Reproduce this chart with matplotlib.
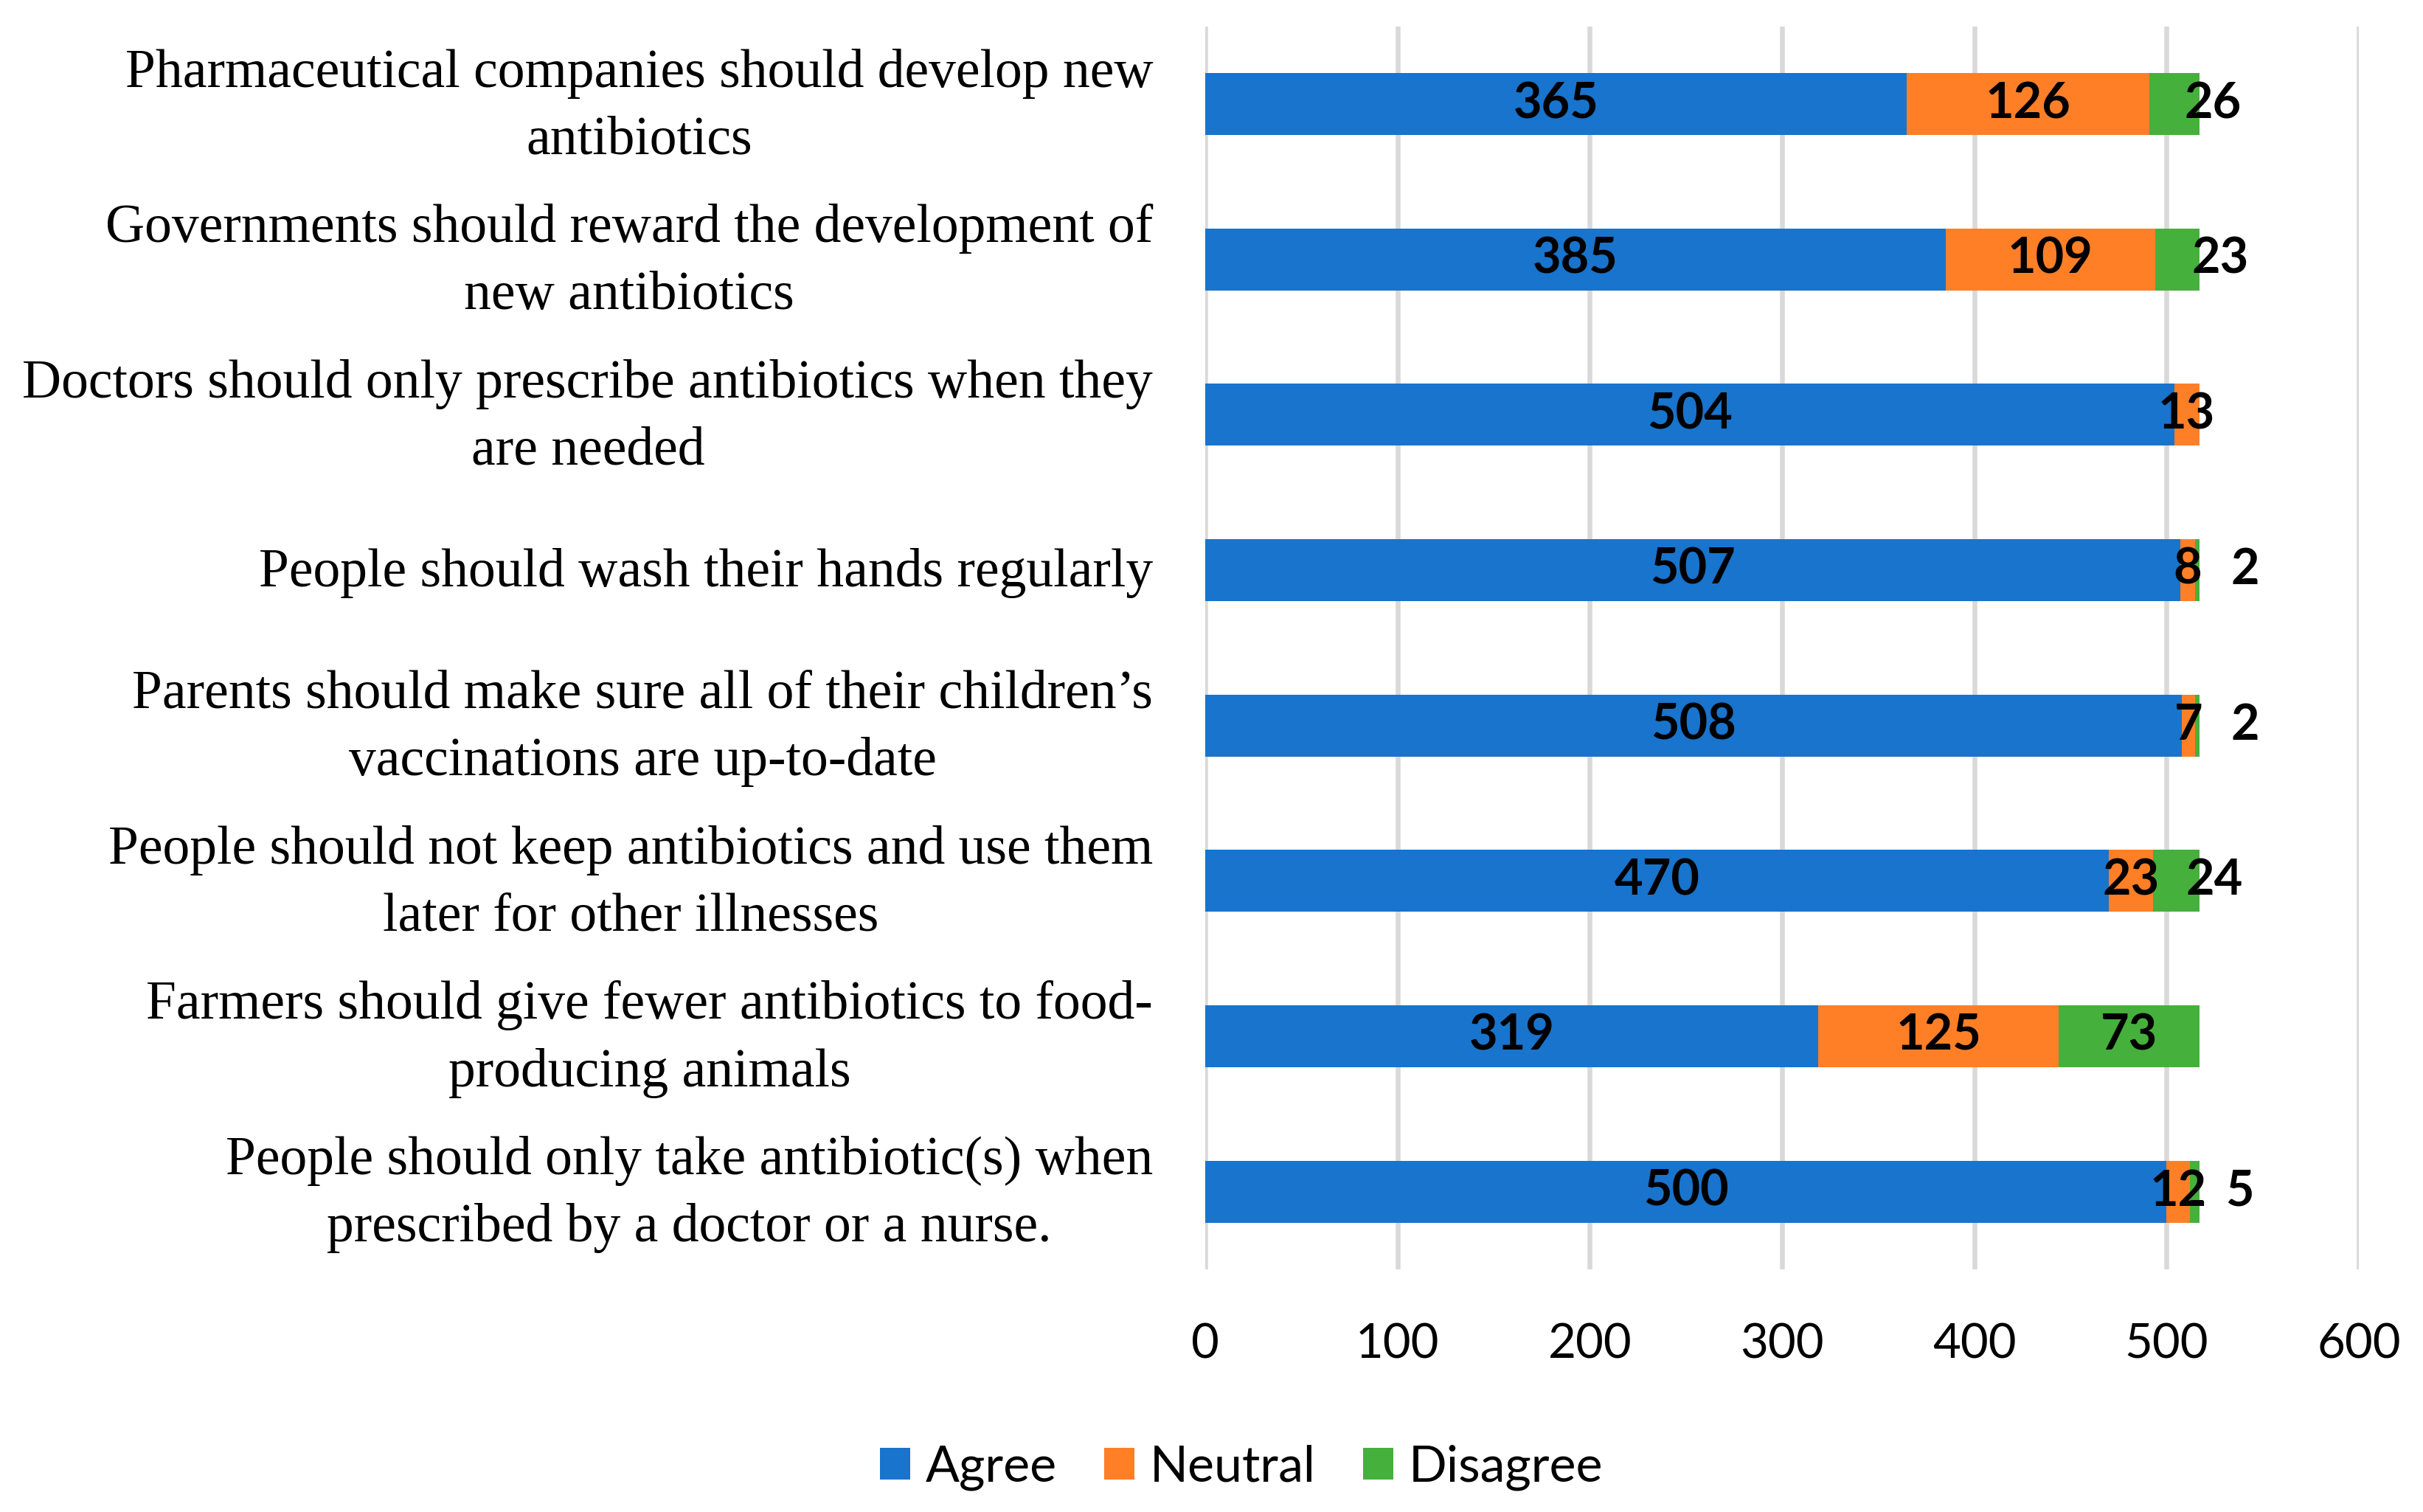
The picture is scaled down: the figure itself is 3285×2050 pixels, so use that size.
# -*- coding: utf-8 -*-
"""
Stacked horizontal bar chart: attitudes towards antibiotic use statements
"""

import numpy as np
import matplotlib
matplotlib.use("Agg")
import matplotlib.pyplot as plt
from matplotlib.patches import Patch
from matplotlib.transforms import ScaledTranslation


# =============================================================================
# DATA
# =============================================================================

statements = [
    "Pharmaceutical companies should develop new\nantibiotics",
    "Governments should reward the development of\nnew antibiotics",
    "Doctors should only prescribe antibiotics when they\nare needed",
    "People should wash their hands regularly",
    "Parents should make sure all of their children\u2019s\nvaccinations are up-to-date",
    "People should not keep antibiotics and use them\nlater for other illnesses",
    "Farmers should give fewer antibiotics to food-\nproducing animals",
    "People should only take antibiotic(s) when\nprescribed by a doctor or a nurse.",
]

agree = [365, 385, 504, 507, 508, 470, 319, 500]
neutral = [126, 109, 13, 8, 7, 23, 125, 12]
disagree = [26, 23, 0, 2, 2, 24, 73, 5]

series_names = ["Agree", "Neutral", "Disagree"]
xticks = [0, 100, 200, 300, 400, 500, 600]

# label shift (data units) for the small "Disagree" labels, like Excel does
disagree_shift = [20, 22.5, 0, 25, 25, 20, 0, 23.5]


# =============================================================================
# STYLE
# =============================================================================

COLORS = ["#1874CD", "#FF7F27", "#45B03C"]
GRID_COLOR = "#D9D9D9"
SERIF = "Liberation Serif"
SANS = "Lato"


# =============================================================================
# PLOT
# =============================================================================

fig = plt.figure(figsize=(32.85, 20.5), dpi=100)
ax = fig.add_axes([0.4974, 0.1605, 0.4761, 0.8221])

y = np.arange(len(statements))
agree_arr = np.array(agree)
neutral_arr = np.array(neutral)
disagree_arr = np.array(disagree)

lefts = [np.zeros(len(y)), agree_arr, agree_arr + neutral_arr]
values = [agree_arr, neutral_arr, disagree_arr]

for name, left, vals, color in zip(series_names, lefts, values, COLORS):
    ax.barh(y, vals, left=left, height=0.4, color=color, label=name, zorder=3)

# value labels
for i in range(len(y)):
    for k, (left, vals) in enumerate(zip(lefts, values)):
        v = vals[i]
        if v == 0:
            continue
        xc = left[i] + v / 2
        if k == 2:
            xc += disagree_shift[i]
        ax.text(xc, y[i], str(v), ha="center", va="center",
                fontsize=48, fontweight="bold", family=SANS,
                color="black", zorder=4)

ax.set_xlim(0, 600)
ax.set_ylim(len(y) - 0.5, -0.5)
ax.set_xticks(xticks)
ax.set_xticklabels([str(t) for t in xticks], family=SANS, fontsize=47)
ax.set_yticks(y)
ax.set_yticklabels(statements)

ax.tick_params(axis="x", length=0, pad=52)
ax.tick_params(axis="y", length=0, pad=51)

# nudge the statement labels a few pixels down
shift_down = ScaledTranslation(0, -4 / 100, fig.dpi_scale_trans)
for lab in ax.get_yticklabels():
    lab.set_family(SERIF)
    lab.set_fontsize(53)
    lab.set_multialignment("center")
    lab.set_linespacing(1.45)
    lab.set_verticalalignment("center")
    lab.set_transform(lab.get_transform() + shift_down)

ax.grid(axis="x", color=GRID_COLOR, linewidth=4.7, zorder=0)
ax.set_axisbelow(True)
for s in ax.spines.values():
    s.set_visible(False)

handles = [Patch(facecolor=c, edgecolor="none") for c in COLORS]
fig.legend(handles, series_names, loc="center",
           bbox_to_anchor=(1683 / 3285, 1 - 1990 / 2050),
           ncol=3, frameon=False, prop={"family": SANS, "size": 49},
           handlelength=0.6, handleheight=0.6, handletextpad=0.3,
           columnspacing=0.95)

fig.savefig("out.png", dpi=100, facecolor="white")
